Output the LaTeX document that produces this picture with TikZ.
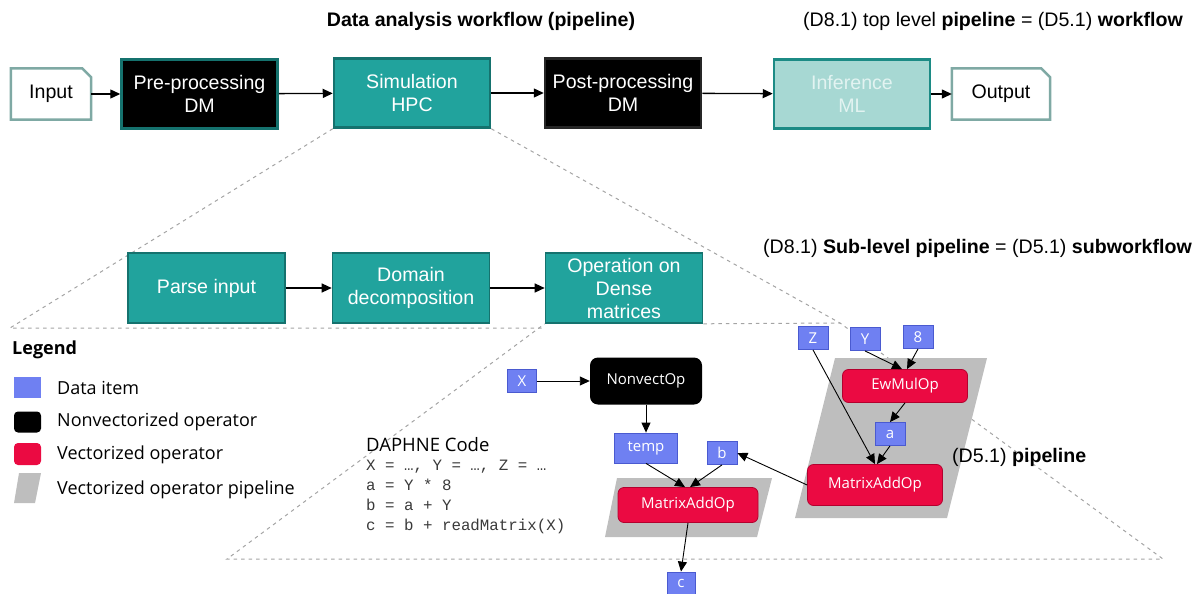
\documentclass[tikz,border=0pt]{standalone}
\usepackage{fontspec}
\setmainfont{Liberation Sans}
\newfontfamily\uifont{Open Sans}
\newfontfamily\codefont{Liberation Mono}
\usetikzlibrary{arrows.meta,backgrounds}

\definecolor{tealfill}{HTML}{21A39D}
\definecolor{tealedge}{HTML}{15726E}
\definecolor{tealpale}{HTML}{A7D8D3}
\definecolor{tealpaletext}{HTML}{E2F3F1}
\definecolor{docedge}{HTML}{7FA9A4}
\definecolor{itemblue}{HTML}{6F80F2}
\definecolor{itemedge}{HTML}{4A5AD0}
\definecolor{opred}{HTML}{EB0A42}
\definecolor{opedge}{HTML}{B4002E}
\definecolor{pipegray}{HTML}{BEBEBE}
\definecolor{zoomgray}{HTML}{A4A4A4}
\definecolor{codegray}{HTML}{3A3A3A}

\tikzset{
  boxfont/.style={font=\fontsize{19.6}{23}\selectfont},
  stagebox/.style={boxfont, draw=tealedge, line width=2.5pt, fill=tealfill,
    text=white, minimum width=156pt, minimum height=69pt, align=center, inner sep=0pt},
  darkstage/.style={stagebox, fill=black},
  plainstage/.style={stagebox, fill=black, draw=black!85},
  palestage/.style={stagebox, fill=tealpale, draw=tealfill!85!black, text=tealpaletext},
  docbox/.style={boxfont, minimum width=80pt, minimum height=51pt, inner sep=0pt},
  docline/.style={draw=docedge, line width=2.5pt, fill=white},
  subbox/.style={boxfont, draw=tealedge, line width=1.6pt, fill=tealfill,
    text=white, minimum width=157pt, minimum height=70pt, align=center, inner sep=0pt},
  flow/.style={line width=1.3pt, -{Triangle[length=10pt,width=9pt]}},
  zoomline/.style={draw=zoomgray, line width=1pt, dash pattern=on 3.5pt off 4pt},
  gfont/.style={font=\uifont\fontsize{15}{18}\selectfont},
  dataitem/.style={gfont, fill=itemblue, draw=itemedge, line width=0.8pt, text=white,
    minimum width=29pt, minimum height=23pt, inner sep=1pt},
  vecop/.style={gfont, fill=opred, draw=opedge, line width=0.8pt, text=white,
    rounded corners=6pt, inner sep=0pt},
  nvecop/.style={gfont, fill=black, text=white, rounded corners=8pt, inner sep=0pt,
    minimum width=112pt, minimum height=47pt},
  garrow/.style={line width=0.9pt, -{Triangle[length=10pt,width=9pt]}},
  legendtext/.style={font=\uifont\fontsize{18}{21}\selectfont, anchor=west, inner sep=0pt},
  heading/.style={font=\fontsize{19.6}{23}\selectfont, inner sep=0pt}
}

\begin{document}
\begin{tikzpicture}[x=1pt, y=-1pt]
\useasboundingbox (0,0) rectangle (1202,594);

% ---------- headings ----------
\node[heading] (title) at (481,21) {\textbf{Data analysis workflow (pipeline)}};
\node[heading, anchor=east] (toplevel) at (1183,21)
  {(D8.1) top level \textbf{pipeline} = (D5.1) \textbf{workflow}};
\node[heading, anchor=east] (sublevel) at (1192,248)
  {(D8.1) \textbf{Sub-level pipeline} = (D5.1) \textbf{subworkflow}};

% ---------- top level workflow ----------
\node[docbox] (in) at (51,94) {};
\draw[docline] (in.south west) -- (in.north west) -- ([xshift=-9pt]in.north east)
  -- ([yshift=-9pt]in.north east) -- (in.south east) -- cycle;
\node[boxfont] (inlabel) at (in.center) {Input};
\node[darkstage] (pre) at (199.5,94) {Pre-processing\\DM};
\node[stagebox] (sim) at (412,93) {Simulation\\HPC};
\node[plainstage] (post) at (623,93) {Post-processing\\DM};
\node[palestage] (inf) at (852,94) {Inference\\ML};
\node[docbox, minimum width=98pt] (out) at (1001,94) {};
\draw[docline] (out.south west) -- (out.north west) -- ([xshift=-9pt]out.north east)
  -- ([yshift=-9pt]out.north east) -- (out.south east) -- cycle;
\node[boxfont] (outlabel) at (out.center) {Output};

\draw[flow] (in) -- (pre);
\draw[flow] (pre) -- (sim);
\draw[flow] (sim) -- (post);
\draw[flow] (post) -- (inf);
\draw[flow] (inf) -- (out);

% ---------- sub-level workflow ----------
\node[subbox] (parse) at (206.5,288) {Parse input};
\node[subbox] (dom) at (411,288) {Domain\\decomposition};
\node[subbox] (op) at (624,288) {Operation on\\Dense\\matrices};
\draw[flow] (parse) -- (dom);
\draw[flow] (dom) -- (op);

% ---------- legend ----------
\node[font=\uifont\bfseries\fontsize{18}{21}\selectfont, anchor=west, inner sep=0pt]
  (legend) at (12,350) {Legend};
\node[fill=itemblue, minimum width=27pt, minimum height=21pt, inner sep=0pt]
  (legdata) at (27.5,387.5) {};
\node[fill=black, rounded corners=4pt, minimum width=27pt, minimum height=21pt, inner sep=0pt]
  (legnv) at (27.5,422) {};
\node[fill=opred, rounded corners=4pt, minimum width=27pt, minimum height=22pt, inner sep=0pt]
  (legv) at (27.5,454) {};
\fill[pipegray] (19,473) -- (41,473) -- (35,503) -- (14,503) -- cycle;
\node[legendtext] (ltdata) at (57,388) {Data item};
\node[legendtext] (ltnv) at (57,422) {Nonvectorized operator};
\node[legendtext] (ltv) at (57,455) {Vectorized operator};
\node[legendtext] (ltpipe) at (57,490) {Vectorized operator pipeline};

% ---------- DAPHNE code ----------
\node[font=\uifont\fontsize{18.5}{21}\selectfont, anchor=west, inner sep=0pt]
  (codehead) at (366,445) {DAPHNE Code};
\node[font=\codefont\fontsize{15.8}{20}\selectfont, text=codegray, anchor=north west,
  inner sep=0pt, align=left] (code) at (366,460)
  {X = …, Y = …, Z = …\\a = Y * 8\\b = a + Y\\c = b + readMatrix(X)};

% ---------- operator graph ----------
\node[dataitem] (x) at (522,381) {X};
\node[nvecop] (nonvec) at (646,381) {NonvectOp};
\node[dataitem, minimum width=63pt, minimum height=30pt] (temp) at (646,448) {temp};
\node[dataitem, minimum width=30pt] (b) at (722,453) {b};
\node[vecop, minimum width=140pt, minimum height=35pt] (madd1) at (688,505) {MatrixAddOp};
\node[dataitem, minimum width=28pt, minimum height=22pt] (c) at (681,583) {c};

\node[dataitem, minimum width=30pt] (z) at (813,338) {Z};
\node[dataitem, minimum width=30pt] (y) at (865,339) {Y};
\node[dataitem, minimum width=30pt] (eight) at (918,337) {8};
\node[vecop, minimum width=125pt, minimum height=33pt] (ewmul) at (905,386) {EwMulOp};
\node[dataitem, minimum width=30pt] (a) at (890,434) {a};
\node[vecop, minimum width=135pt, minimum height=41pt] (madd2) at (875,485) {MatrixAddOp};

\node[heading, anchor=west] (pipelabel) at (952,457) {(D5.1) \textbf{pipeline}};

\draw[garrow] (x) -- (nonvec);
\draw[garrow] (nonvec) -- (temp);
\draw[garrow] (temp.south) -- ([xshift=-3pt]madd1.north);
\draw[garrow] (b.south) -- ([xshift=2pt]madd1.north);
\draw[garrow] (madd1.south) -- (c.north);
\draw[garrow] (madd2.west) -- (b.east);
\draw[garrow] (z.south) -- (madd2.north);
\draw[garrow] (y.south) -- ([xshift=-3pt]ewmul.north);
\draw[garrow] (eight.south) -- ([xshift=2pt]ewmul.north);
\draw[garrow] (ewmul.south) -- (a.north);
\draw[garrow] (a.south) -- ([xshift=2pt]madd2.north);

% ---------- zoom guides and pipelines (behind the nodes) ----------
\begin{scope}[on background layer]
  \coordinate (kneeL) at (10,328);
  \coordinate (kneeM) at (545,328);
  \coordinate (kneeR) at (840,323);
  \coordinate (baseL) at (227,559);
  \coordinate (baseR) at (1163,559);
  \draw[zoomline] (sim.south west) -- (kneeL) -- (kneeM);
  \draw[zoomline] (sim.south east) -- (kneeR);
  \draw[zoomline] (op.south east) -- (kneeR) -- (baseR) -- (baseL) -- (op.south west);
  \fill[pipegray] (835,358) -- (987,358) -- (947,518) -- (795,518) -- cycle;
  \fill[pipegray] (617,478) -- (772,478) -- (757,537) -- (605,537) -- cycle;
\end{scope}
\end{tikzpicture}
\end{document}
